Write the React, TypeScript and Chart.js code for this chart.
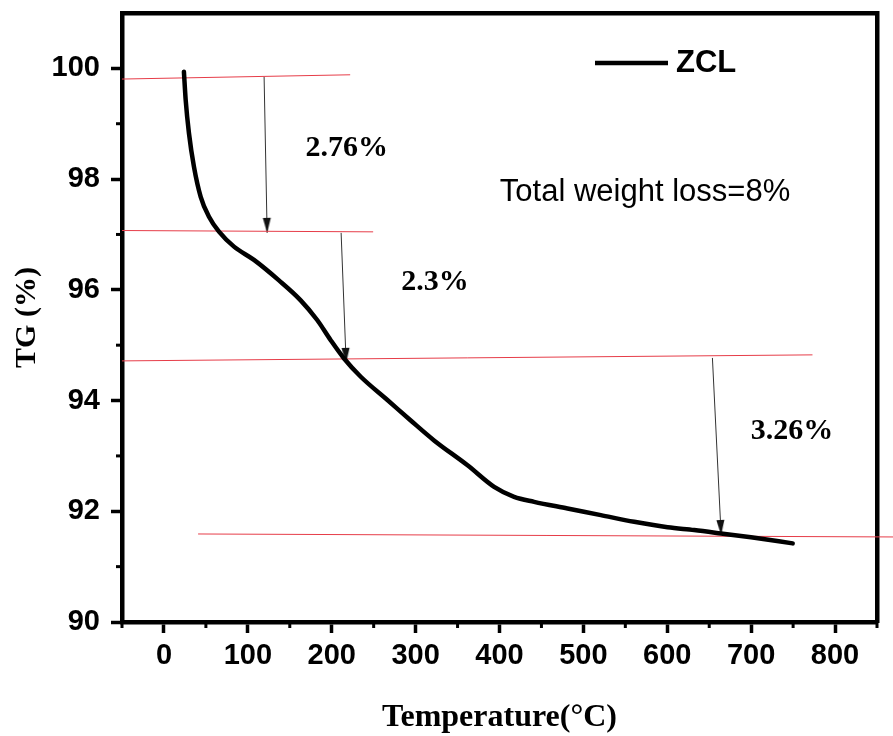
import React, { useEffect, useRef } from 'react';
import { Chart, registerables } from 'chart.js';

Chart.register(...registerables);

// ---- Data ----
const TEMPERATURE = [23.8, 25.9, 29.8, 35.8, 43.8, 53.7, 65.6, 83.5, 107.3, 137.1, 163, 182.9, 198.8, 214.7, 234.6, 266.4, 294.2, 322, 361.9, 393.6, 417.4, 441.3, 481.1, 520.8, 560.6, 600.4, 632.1, 664, 699.8, 749.5];
const TG = [99.94, 99.43, 98.83, 98.22, 97.68, 97.32, 97.05, 96.78, 96.54, 96.17, 95.81, 95.45, 95.09, 94.76, 94.43, 94.01, 93.64, 93.28, 92.83, 92.44, 92.26, 92.17, 92.05, 91.93, 91.81, 91.71, 91.66, 91.6, 91.53, 91.42];
const SERIES_LABEL = 'ZCL';

// Horizontal step reference lines (start, end)
const STEP_X = [[-50, 222.0], [-50, 249.4], [-50, 773.1], [40.7, 900]];
const STEP_Y = [[99.807, 99.884], [97.071, 97.047], [94.716, 94.825], [91.59, 91.534]];

// Arrows (start, end)
const ARROW_X = [[119.4, 123.0], [211.2, 217.2], [653.8, 664.2]];
const ARROW_Y = [[99.848, 97.029], [97.029, 94.68], [94.77, 91.572]];

// Annotation texts and anchors (data units)
const NOTE_TEXT = ['2.76%', '2.3%', '3.26%', 'Total weight loss=8%'];
const NOTE_X = [217.8, 323.1, 748.6, 573.5];
const NOTE_Y = [98.556, 96.14, 93.44, 97.75];

// Axes
const X_TICKS = [0, 100, 200, 300, 400, 500, 600, 700, 800];
const X_MINOR_TICKS = [-50, 50, 150, 250, 350, 450, 550, 650, 750, 850];
const Y_TICKS = [90, 92, 94, 96, 98, 100];
const Y_MINOR_TICKS = [91, 93, 95, 97, 99];
const X_TITLE = 'Temperature(°C)';
const Y_TITLE = 'TG (%)';

const SANS = '"Liberation Sans", Arial, sans-serif';
const SERIF = '"Liberation Serif", "Times New Roman", serif';

export default function App() {
  const ref = useRef<HTMLCanvasElement>(null);

  useEffect(() => {
    const canvas = ref.current;
    if (!canvas) return;

    // narrow arrowhead, tip at the image center
    const head = document.createElement('canvas');
    head.width = 9;
    head.height = 30;
    const hctx = head.getContext('2d')!;
    hctx.fillStyle = '#111';
    hctx.beginPath();
    hctx.moveTo(0.5, 0);
    hctx.lineTo(8.5, 0);
    hctx.lineTo(4.5, 15);
    hctx.closePath();
    hctx.fill();

    const arrowRotation = (c: any) => {
      try {
        const d = c.dataset.data;
        const xs = c.chart.scales.x;
        const ys = c.chart.scales.y;
        const dx = xs.getPixelForValue(d[1].x) - xs.getPixelForValue(d[0].x);
        const dy = ys.getPixelForValue(d[1].y) - ys.getPixelForValue(d[0].y);
        const r = (-Math.atan2(dx, dy) * 180) / Math.PI;
        return isFinite(r) ? r : 0;
      } catch (e) {
        return 0;
      }
    };

    const stepSets = STEP_X.map((xs, i) => ({
      label: '',
      data: xs.map((x, j) => ({ x, y: STEP_Y[i][j] })),
      borderColor: 'rgb(230, 60, 72)',
      borderWidth: 1,
      pointRadius: 0,
      clip: false as any,
      tension: 0,
    }));

    const arrowSets = ARROW_X.map((xs, i) => ({
      label: '',
      data: xs.map((x, j) => ({ x, y: ARROW_Y[i][j] })),
      borderColor: '#333',
      borderWidth: 1,
      tension: 0,
      pointRadius: (c: any) => (c.dataIndex === 1 ? 5 : 0),
      pointStyle: (c: any) => (c.dataIndex === 1 ? head : false),
      pointRotation: arrowRotation,
    }));

    const minorTicks = {
      id: 'minorTicks',
      afterDraw(chart: any) {
        const { ctx, chartArea, scales } = chart;
        ctx.save();
        ctx.strokeStyle = '#000';
        ctx.lineWidth = 3;
        X_MINOR_TICKS.forEach((v) => {
          const px = scales.x.getPixelForValue(v);
          ctx.beginPath();
          ctx.moveTo(px, chartArea.bottom);
          ctx.lineTo(px, chartArea.bottom + 6);
          ctx.stroke();
        });
        Y_MINOR_TICKS.forEach((v) => {
          const py = scales.y.getPixelForValue(v);
          ctx.beginPath();
          ctx.moveTo(chartArea.left, py);
          ctx.lineTo(chartArea.left - 6, py);
          ctx.stroke();
        });
        ctx.restore();
      },
    };

    const notes = {
      id: 'notes',
      afterDatasetsDraw(chart: any) {
        const { ctx, scales } = chart;
        ctx.save();
        ctx.fillStyle = '#000';
        ctx.textAlign = 'center';
        ctx.textBaseline = 'middle';
        NOTE_TEXT.forEach((t, i) => {
          ctx.font = i < 3 ? `bold 30px ${SERIF}` : `31px ${SANS}`;
          ctx.fillText(t, scales.x.getPixelForValue(NOTE_X[i]), scales.y.getPixelForValue(NOTE_Y[i]));
        });
        ctx.restore();
      },
    };

    const legend = {
      id: 'seriesLegend',
      afterDraw(chart: any) {
        const ds = chart.data.datasets[0];
        const { ctx } = chart;
        ctx.save();
        ctx.strokeStyle = ds.borderColor;
        ctx.lineWidth = 4.5;
        ctx.beginPath();
        ctx.moveTo(595, 63);
        ctx.lineTo(668, 63);
        ctx.stroke();
        ctx.fillStyle = '#000';
        ctx.font = `bold 31px ${SANS}`;
        ctx.textAlign = 'left';
        ctx.textBaseline = 'middle';
        ctx.fillText(ds.label, 676, 63);
        ctx.restore();
      },
    };

    const chart = new Chart(canvas, {
      type: 'line',
      data: {
        datasets: [
          {
            label: SERIES_LABEL,
            data: TEMPERATURE.map((x, i) => ({ x, y: TG[i] })),
            borderColor: '#000',
            borderWidth: 4.5,
            pointRadius: 0,
            cubicInterpolationMode: 'monotone',
            borderCapStyle: 'round',
            borderJoinStyle: 'round',
          } as any,
          ...stepSets,
          ...arrowSets,
        ] as any,
      },
      options: {
        animation: false,
        responsive: false,
        devicePixelRatio: 1,
        layout: { padding: { top: 13, right: 16, bottom: 0, left: 0 }, autoPadding: false },
        plugins: { legend: { display: false }, tooltip: { enabled: false } },
        events: [],
        scales: {
          x: {
            type: 'linear',
            position: 'bottom',
            min: -50,
            max: 850,
            afterBuildTicks: (s: any) => {
              s.ticks = X_TICKS.map((v) => ({ value: v }));
            },
            afterFit: (s: any) => {
              s.height = 114;
              s.paddingLeft = 0;
              s.paddingRight = 0;
            },
            grid: { display: true, drawOnChartArea: false, drawTicks: true, tickLength: 11, tickWidth: 3.5, tickColor: '#000' },
            border: { display: true, width: 4.5, color: '#000' },
            ticks: { color: '#000', font: { family: SANS, size: 29, weight: 'bold' }, padding: 6, maxRotation: 0, autoSkip: false },
            title: {
              display: true,
              text: X_TITLE,
              color: '#000',
              font: { family: SERIF, size: 32, weight: 'bold', lineHeight: 1 },
              padding: { top: 0, bottom: 2 },
            },
          },
          y: {
            type: 'linear',
            position: 'left',
            min: 90,
            max: 101,
            afterBuildTicks: (s: any) => {
              s.ticks = Y_TICKS.map((v) => ({ value: v }));
            },
            afterFit: (s: any) => {
              s.width = 122;
              s.paddingTop = 0;
              s.paddingBottom = 0;
            },
            grid: { display: true, drawOnChartArea: false, drawTicks: true, tickLength: 11, tickWidth: 3.5, tickColor: '#000' },
            border: { display: true, width: 4.5, color: '#000' },
            ticks: { color: '#000', font: { family: SANS, size: 29, weight: 'bold' }, padding: 11 },
            title: {
              display: true,
              text: Y_TITLE,
              color: '#000',
              font: { family: SERIF, size: 30, weight: 'bold', lineHeight: 1 },
              padding: { top: 12, bottom: 0 },
            },
          },
          x2: {
            axis: 'x',
            type: 'linear',
            position: 'top',
            min: -50,
            max: 850,
            afterFit: (s: any) => {
              s.height = 0;
              s.paddingLeft = 0;
              s.paddingRight = 0;
            },
            grid: { display: false, drawTicks: false },
            border: { display: true, width: 4.5, color: '#000' },
            ticks: { display: false },
          },
          y2: {
            axis: 'y',
            type: 'linear',
            position: 'right',
            min: 90,
            max: 101,
            afterFit: (s: any) => {
              s.width = 0;
              s.paddingTop = 0;
              s.paddingBottom = 0;
            },
            grid: { display: false, drawTicks: false },
            border: { display: true, width: 4.5, color: '#000' },
            ticks: { display: false },
          },
        } as any,
      },
      plugins: [minorTicks, notes, legend],
    });

    return () => chart.destroy();
  }, []);

  return (
    <div style={{ position: 'absolute', left: 0, top: 0, width: 893, height: 736, background: '#fff' }}>
      <canvas ref={ref} width={893} height={736} style={{ display: 'block', width: 893, height: 736 }} />
    </div>
  );
}
